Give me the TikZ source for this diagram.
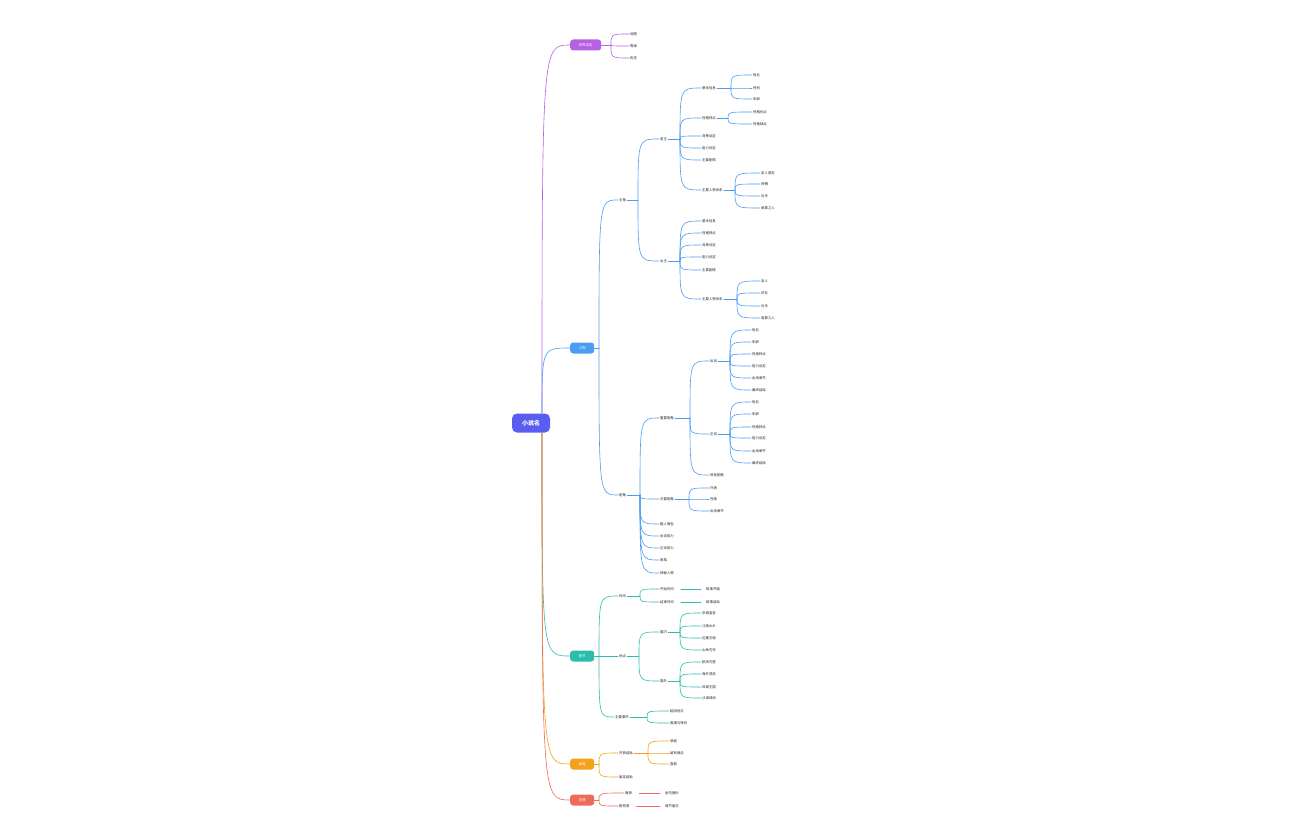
\documentclass[tikz,border=0pt]{standalone}
\usepackage{fontspec}
\setmainfont{Noto Sans CJK SC}
\usetikzlibrary{positioning}

\definecolor{rootc}{HTML}{5A5EF0}
\definecolor{purplec}{HTML}{B660E3}
\definecolor{bluec}{HTML}{4A9DF2}
\definecolor{tealc}{HTML}{2CBCAE}
\definecolor{orangec}{HTML}{F5A11C}
\definecolor{redc}{HTML}{EF6A58}
\definecolor{textc}{HTML}{222222}

\begin{document}
\begin{tikzpicture}[x=1pt,y=-1pt]
    \tikzstyle{rootbox}=[fill=rootc, rounded corners=5pt, text=white, font=\fontsize{6}{7}\selectfont\bfseries, minimum width=38pt, minimum height=19pt, inner sep=0pt]
    \tikzstyle{topic}=[rounded corners=3pt, text=white, font=\fontsize{3.5}{4}\selectfont, minimum height=11pt, inner xsep=8.5pt, inner ysep=0pt, anchor=west]
    \tikzstyle{leaf}=[text=textc, font=\fontsize{3.4}{4}\selectfont, inner sep=1pt, anchor=west]
    \tikzstyle{link}=[line width=0.6pt, line cap=round]
    \tikzstyle{fanline}=[to path={.. controls (\tikztostart |- \tikztotarget) .. (\tikztotarget)}]

    \fill[white] (0,0) rectangle (1296,840);
    \useasboundingbox (0,0) rectangle (1296,840);

    \node[rootbox] (root) at (531,423) {小说名};
    \coordinate (rtop) at (542,413);
    \coordinate (rbot) at (542,433);

    % 世界设定
    \node[topic, fill=purplec] (world) at (570,45) {世界设定};
    \coordinate (jw) at (611,45);
    \draw[link, purplec] (rtop) to[fanline] (world);
    \draw[link, purplec] (world) -- (jw);
    \foreach \y/\t [count=\i] in {34/地图, 46/等级, 58/历史} {
        \node[leaf] (w\i) at (629,\y) {\t};
        \draw[link, purplec] (jw) to[fanline] (w\i);
    }

    % 人物
    \node[topic, fill=bluec] (people) at (570,348) {人物};
    \coordinate (jp) at (599,348);
    \draw[link, bluec] (rtop) to[fanline] (people);
    \draw[link, bluec] (people) -- (jp);

    \node[leaf] (lead) at (618,200) {主角};
    \node[leaf] (support) at (618,495) {配角};
    \coordinate (jl) at (638,200);
    \coordinate (js) at (640,495);
    \draw[link, bluec] (jp) to[fanline] (lead);
    \draw[link, bluec] (jp) to[fanline] (support);
    \draw[link, bluec] (lead) -- (jl);
    \draw[link, bluec] (support) -- (js);

    % 男主
    \node[leaf] (male) at (659,139) {男主};
    \coordinate (jm) at (680,139);
    \draw[link, bluec] (jl) to[fanline] (male);
    \draw[link, bluec] (male) -- (jm);
    \foreach \y/\t/\n in {88/基本信息/m1, 118/性格特点/m2, 136/背景设定/m3, 148/能力设定/m4, 160/主要剧情/m5, 190/主要人物关系/m6} {
        \node[leaf] (\n) at (701,\y) {\t};
        \draw[link, bluec] (jm) to[fanline] (\n);
    }
    \coordinate (jm1) at (731,88);
    \coordinate (jm2) at (728,118);
    \coordinate (jm6) at (735,190);
    \draw[link, bluec] (m1) -- (jm1);
    \draw[link, bluec] (m2) -- (jm2);
    \draw[link, bluec] (m6) -- (jm6);
    \foreach \y/\t [count=\i] in {75/姓名, 88/性别, 99/年龄} {
        \node[leaf] (ma\i) at (752,\y) {\t};
        \draw[link, bluec] (jm1) to[fanline] (ma\i);
    }
    \foreach \y/\t [count=\i] in {112/性格优点, 124/性格缺点} {
        \node[leaf] (mb\i) at (752,\y) {\t};
        \draw[link, bluec] (jm2) to[fanline] (mb\i);
    }
    \foreach \y/\t [count=\i] in {173/亲人朋友, 184/师傅, 196/对手, 208/爱慕之人} {
        \node[leaf] (mc\i) at (760,\y) {\t};
        \draw[link, bluec] (jm6) to[fanline] (mc\i);
    }

    % 女主
    \node[leaf] (female) at (659,261) {女主};
    \coordinate (jf) at (680,261);
    \draw[link, bluec] (jl) to[fanline] (female);
    \draw[link, bluec] (female) -- (jf);
    \foreach \y/\t/\n in {221/基本信息/f1, 233/性格特点/f2, 245/背景设定/f3, 257/能力设定/f4, 270/主要剧情/f5, 299/主要人物关系/f6} {
        \node[leaf] (\n) at (701,\y) {\t};
        \draw[link, bluec] (jf) to[fanline] (\n);
    }
    \coordinate (jf6) at (737,299);
    \draw[link, bluec] (f6) -- (jf6);
    \foreach \y/\t [count=\i] in {281/亲人, 293/好友, 306/对手, 318/爱慕之人} {
        \node[leaf] (fc\i) at (760,\y) {\t};
        \draw[link, bluec] (jf6) to[fanline] (fc\i);
    }

    % 配角
    \node[leaf] (s1) at (659,418) {重要配角};
    \coordinate (js1) at (690,418);
    \draw[link, bluec] (js) to[fanline] (s1);
    \draw[link, bluec] (s1) -- (js1);
    \node[leaf] (s1a) at (709,361) {反派};
    \node[leaf] (s1b) at (709,434) {正派};
    \node[leaf] (s1c) at (709,475) {其他配角};
    \draw[link, bluec] (js1) to[fanline] (s1a);
    \draw[link, bluec] (js1) to[fanline] (s1b);
    \draw[link, bluec] (js1) to[fanline] (s1c);
    \coordinate (jsa) at (730,361);
    \coordinate (jsb) at (730,434);
    \draw[link, bluec] (s1a) -- (jsa);
    \draw[link, bluec] (s1b) -- (jsb);
    \foreach \y/\t [count=\i] in {330/姓名, 342/年龄, 354/性格特点, 366/能力设定, 378/出场章节, 390/最终结局} {
        \node[leaf] (sa\i) at (751,\y) {\t};
        \draw[link, bluec] (jsa) to[fanline] (sa\i);
    }
    \foreach \y/\t [count=\i] in {402/姓名, 414/年龄, 427/性格特点, 438/能力设定, 451/出场章节, 463/最终结局} {
        \node[leaf] (sb\i) at (751,\y) {\t};
        \draw[link, bluec] (jsb) to[fanline] (sb\i);
    }

    \node[leaf] (s2) at (659,499) {次要配角};
    \coordinate (js2) at (689,499);
    \draw[link, bluec] (js) to[fanline] (s2);
    \draw[link, bluec] (s2) -- (js2);
    \foreach \y/\t [count=\i] in {488/外貌, 499/性格, 511/出场章节} {
        \node[leaf] (sc\i) at (709,\y) {\t};
        \draw[link, bluec] (js2) to[fanline] (sc\i);
    }
    \foreach \y/\t/\n in {524/路人角色/s3, 536/反派势力/s4, 548/正派势力/s5, 560/家族/s6, 573/神秘人物/s7} {
        \node[leaf] (\n) at (659,\y) {\t};
        \draw[link, bluec] (js) to[fanline] (\n);
    }

    % 情节
    \node[topic, fill=tealc] (plot) at (570,656) {情节};
    \coordinate (jt) at (599,656);
    \draw[link, tealc] (rbot) to[fanline] (plot);
    \draw[link, tealc] (plot) -- (jt);

    \node[leaf] (time) at (618,596) {时间};
    \node[leaf] (place) at (618,656) {地点};
    \node[leaf] (event) at (614,717) {主要事件};
    \draw[link, tealc] (jt) to[fanline] (time);
    \draw[link, tealc] (jt) -- (place);
    \draw[link, tealc] (jt) to[fanline] (event);

    \coordinate (jti) at (640,596);
    \draw[link, tealc] (time) -- (jti);
    \node[leaf] (t1) at (659,589) {开始时间};
    \node[leaf] (t2) at (659,602) {结束时间};
    \draw[link, tealc] (jti) to[fanline] (t1);
    \draw[link, tealc] (jti) to[fanline] (t2);
    \node[leaf] (tl1) at (705,589) {故事开端};
    \node[leaf] (tl2) at (705,602) {故事结局};
    \draw[link, tealc, shorten <=6pt, shorten >=4pt] (t1) -- (tl1);
    \draw[link, tealc, shorten <=6pt, shorten >=4pt] (t2) -- (tl2);

    \coordinate (jpl) at (639,656);
    \draw[link, tealc] (place) -- (jpl);
    \node[leaf] (home) at (659,632) {国内};
    \node[leaf] (abroad) at (659,681) {国外};
    \draw[link, tealc] (jpl) to[fanline] (home);
    \draw[link, tealc] (jpl) to[fanline] (abroad);
    \coordinate (jh) at (680,632);
    \coordinate (ja) at (680,681);
    \draw[link, tealc] (home) -- (jh);
    \draw[link, tealc] (abroad) -- (ja);
    \foreach \y/\t [count=\i] in {613/京城皇宫, 626/江南水乡, 638/边塞古城, 650/山林古寺} {
        \node[leaf] (h\i) at (701,\y) {\t};
        \draw[link, tealc] (jh) to[fanline] (h\i);
    }
    \foreach \y/\t [count=\i] in {662/欧洲古堡, 674/海外孤岛, 687/异域王国, 698/沙漠绿洲} {
        \node[leaf] (a\i) at (701,\y) {\t};
        \draw[link, tealc] (ja) to[fanline] (a\i);
    }

    \coordinate (je) at (647,717);
    \draw[link, tealc] (event) -- (je);
    \foreach \y/\t [count=\i] in {711/起因经过, 723/高潮与转折} {
        \node[leaf] (e\i) at (669,\y) {\t};
        \draw[link, tealc] (je) to[fanline] (e\i);
    }

    % 结局
    \node[topic, fill=orangec] (ending) at (570,764) {结局};
    \coordinate (jen) at (599,764);
    \draw[link, orangec] (rbot) to[fanline] (ending);
    \draw[link, orangec] (ending) -- (jen);
    \node[leaf] (open) at (618,753) {开放结局};
    \node[leaf] (fixed) at (618,777) {固定结局};
    \draw[link, orangec] (jen) to[fanline] (open);
    \draw[link, orangec] (jen) to[fanline] (fixed);
    \coordinate (jo) at (648,753);
    \draw[link, orangec] (open) -- (jo);
    \foreach \y/\t [count=\i] in {741/悲剧, 753/留有悬念, 764/喜剧} {
        \node[leaf] (o\i) at (669,\y) {\t};
        \draw[link, orangec] (jo) to[fanline] (o\i);
    }

    % 灵感
    \node[topic, fill=redc] (idea) at (570,800) {灵感};
    \coordinate (ji) at (599,800);
    \draw[link, redc] (rbot) to[fanline] (idea);
    \draw[link, redc] (idea) -- (ji);
    \node[leaf] (ex) at (624,793) {摘录};
    \node[leaf] (plan) at (618,806) {新构思};
    \draw[link, redc] (ji) to[fanline] (ex);
    \draw[link, redc] (ji) to[fanline] (plan);
    \node[leaf] (exl) at (664,793) {金句摘抄};
    \node[leaf] (planl) at (664,806) {情节备忘};
    \draw[link, redc, shorten <=6pt, shorten >=4pt] (ex) -- (exl);
    \draw[link, redc, shorten <=6pt, shorten >=4pt] (plan) -- (planl);
\end{tikzpicture}
\end{document}
